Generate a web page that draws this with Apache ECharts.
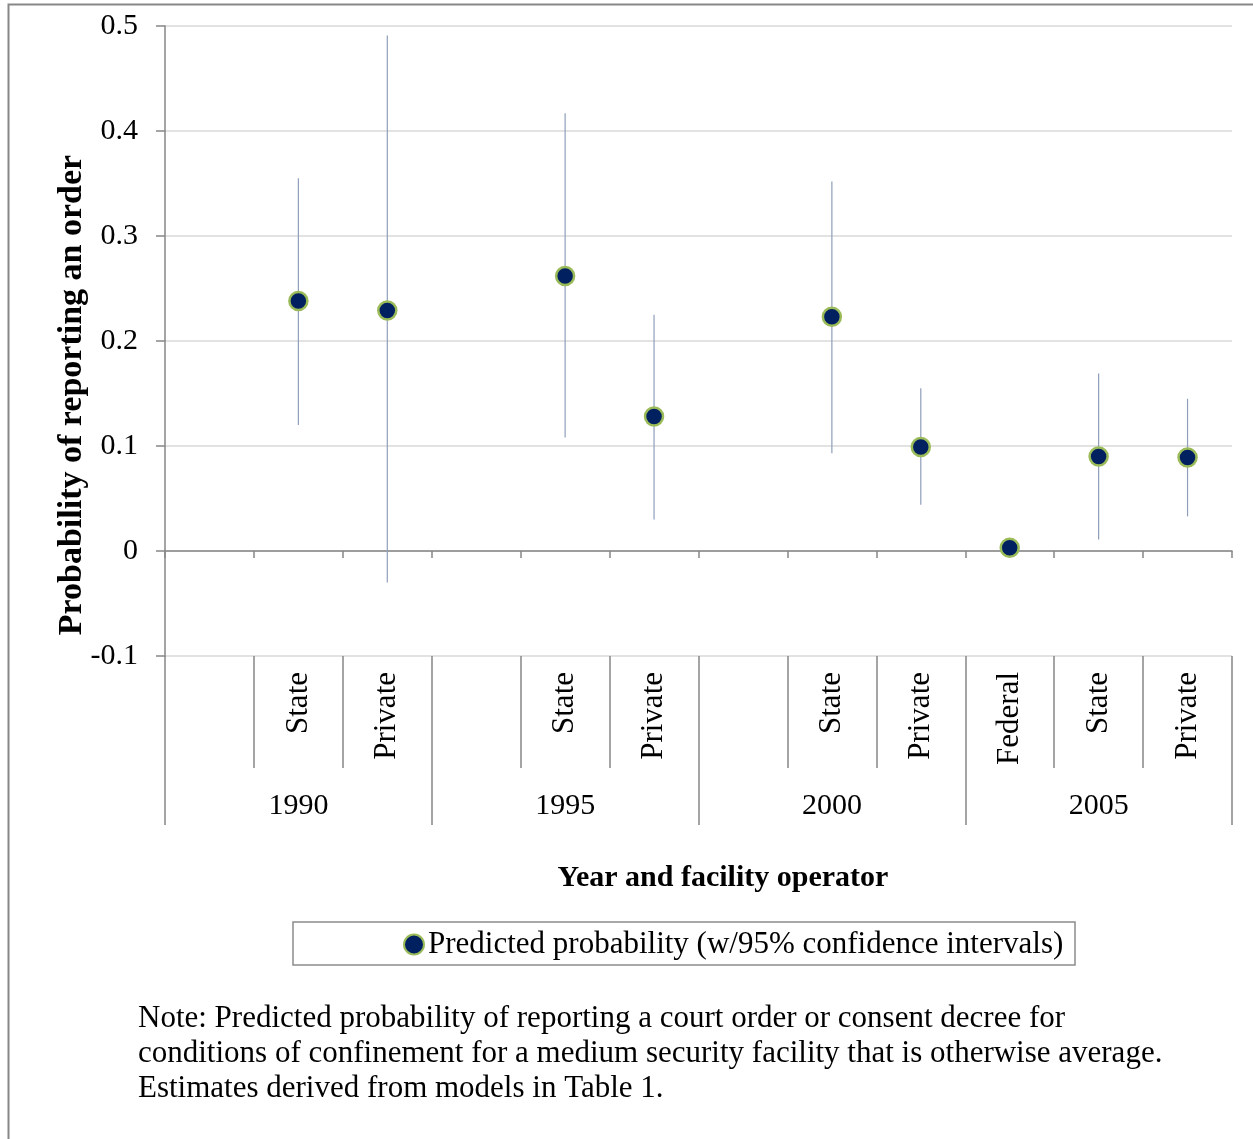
<!DOCTYPE html>
<html>
<head>
<meta charset="utf-8">
<script src="https://cdn.jsdelivr.net/npm/echarts@6/dist/echarts.min.js"></script>
<style>
html,body{margin:0;padding:0;background:#fff;}
#chart{width:1253px;height:1139px;}
</style>
</head>
<body>
<div id="chart"></div>
<script>
// ---- data ----
const operators = ['', 'State', 'Private', '', 'State', 'Private', '', 'State', 'Private', 'Federal', 'State', 'Private'];
const years = ['1990', '1995', '2000', '2005'];
const estimates = [null, 0.238, 0.229, null, 0.262, 0.128, null, 0.223, 0.099, 0.003, 0.090, 0.089];
const lowerCI = [null, 0.120, -0.030, null, 0.108, 0.030, null, 0.093, 0.044, null, 0.011, 0.033];
const upperCI = [null, 0.355, 0.491, null, 0.417, 0.225, null, 0.352, 0.155, null, 0.169, 0.145];
const yTicks = { min: -0.1, max: 0.5, interval: 0.1 };
const seriesName = 'Predicted probability (w/95% confidence intervals)';
const yTitle = 'Probability of reporting an order';
const xTitle = 'Year and facility operator';
const noteText = 'Note: Predicted probability of reporting a court order or consent decree for\nconditions of confinement for a medium security facility that is otherwise average.\nEstimates derived from models in Table 1.';

const FONT = "'Liberation Serif', 'DejaVu Serif', serif";
const AXIS = '#868686';
const GRID = '#D9D9D9';

const pointData = [];
const ciData = [];
estimates.forEach((v, i) => { if (v !== null) pointData.push([i, v]); });
lowerCI.forEach((lo, i) => { if (lo !== null && upperCI[i] !== null) ciData.push([i, lo, upperCI[i]]); });

const chart = echarts.init(document.getElementById('chart'), null, { renderer: 'canvas' });
chart.setOption({
  backgroundColor: '#fff',
  animation: false,
  textStyle: { fontFamily: FONT },
  grid: { left: 165, right: 21, top: 26, bottom: 483, containLabel: false },
  xAxis: [
    {
      type: 'category', data: operators, boundaryGap: true,
      axisLine: { show: true, onZero: true, lineStyle: { color: AXIS, width: 1.5 } },
      axisTick: { show: true, interval: 0, length: 7, lineStyle: { color: AXIS, width: 1.5 } },
      axisLabel: { show: false }, splitLine: { show: false }
    },
    {
      type: 'category', data: operators, position: 'bottom', boundaryGap: true,
      axisLine: { show: false, onZero: false },
      axisTick: { show: true, interval: 0, length: 112, lineStyle: { color: AXIS, width: 1.5 } },
      axisLabel: { show: true, interval: 0, rotate: 90, margin: 16, fontSize: 31, color: '#000', fontFamily: FONT },
      splitLine: { show: false }
    },
    {
      type: 'category', data: years, position: 'bottom', boundaryGap: true,
      axisLine: { show: false, onZero: false },
      axisTick: { show: true, interval: 0, length: 169, lineStyle: { color: AXIS, width: 1.5 } },
      axisLabel: { show: true, interval: 0, margin: 135, fontSize: 30, color: '#000', fontFamily: FONT },
      splitLine: { show: false }
    }
  ],
  yAxis: {
    type: 'value', min: yTicks.min, max: yTicks.max, interval: yTicks.interval,
    axisLine: { show: true, lineStyle: { color: AXIS, width: 1.5 } },
    axisTick: { show: true, length: 9, lineStyle: { color: AXIS, width: 1.5 } },
    axisLabel: { margin: 27, fontSize: 30, color: '#000', fontFamily: FONT,
      formatter: v => String(+v.toFixed(1)) },
    splitLine: { show: true, lineStyle: { color: GRID, width: 1.5 } }
  },
  legend: {
    show: true, left: 403, top: 929, padding: 0,
    data: [seriesName], icon: 'circle', itemWidth: 20, itemHeight: 20, itemGap: 6,
    textStyle: { fontSize: 31, color: '#000', fontFamily: FONT, padding: [0, 0, 0, -1] }
  },
  series: [
    {
      name: 'CI', type: 'custom', xAxisIndex: 0, data: ciData, z: 1,
      encode: { x: 0, y: [1, 2] },
      renderItem: function (params, api) {
        const lo = api.coord([api.value(0), api.value(1)]);
        const hi = api.coord([api.value(0), api.value(2)]);
        return { type: 'line', shape: { x1: lo[0], y1: lo[1], x2: hi[0], y2: hi[1] },
          style: { stroke: '#8E9EBB', lineWidth: 1.2 } };
      }
    },
    {
      name: seriesName, type: 'scatter', xAxisIndex: 0, data: pointData, z: 5,
      symbol: 'circle', symbolSize: 18,
      itemStyle: { color: '#002060', borderColor: '#9BBB59', borderWidth: 2.5, opacity: 1 }
    }
  ],
  graphic: [
    { type: 'rect', left: 6, top: 2, silent: true,
      shape: { x: 0, y: 0, width: 1300, height: 1200 },
      style: { fill: 'none', stroke: '#888', lineWidth: 2 } },
    { type: 'rect', silent: true,
      shape: { x: 293, y: 922, width: 782, height: 43 },
      style: { fill: 'none', stroke: '#8c8c8c', lineWidth: 1.5 } },
    { type: 'text', silent: true, x: 72, y: 395, rotation: Math.PI / 2,
      style: { text: yTitle, font: "bold 34px " + FONT, fill: '#000', align: 'center', verticalAlign: 'middle' } },
    { type: 'text', silent: true, x: 723, y: 878,
      style: { text: xTitle, font: "bold 30px " + FONT, fill: '#000', align: 'center', verticalAlign: 'middle' } },
    { type: 'text', silent: true, x: 138, y: 1001,
      style: { text: noteText, font: "31px " + FONT, fill: '#000', lineHeight: 35, align: 'left', verticalAlign: 'top' } }
  ]
});
</script>
</body>
</html>
